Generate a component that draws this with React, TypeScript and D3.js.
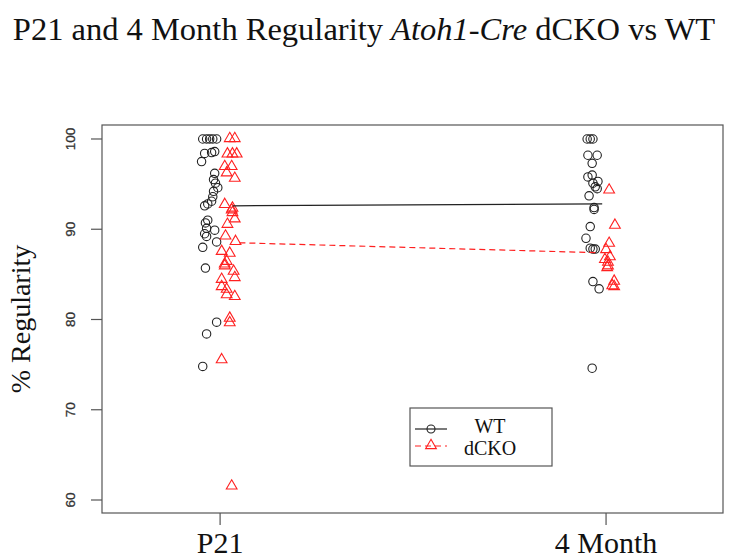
import React from "react";
import * as d3 from "d3";

const groups = ["P21", "4 Month"];
const yTicks = [60, 70, 80, 90, 100];

// [value, jitter offset in category units]
const wtP21: [number, number][] = [
  [100, -0.045], [100, -0.035], [100, -0.027], [100, -0.019], [100, -0.009],
  [98.4, -0.04], [98.5, -0.022], [98.6, -0.014],
  [97.5, -0.048], [96.2, -0.014], [95.5, -0.017], [95.1, -0.012], [94.6, -0.006],
  [94.2, -0.017], [93.6, -0.019], [93.1, -0.022], [92.8, -0.032], [92.6, -0.04],
  [91.0, -0.032], [90.7, -0.038], [90.1, -0.035], [89.9, -0.014], [89.5, -0.04],
  [89.2, -0.035], [88.6, -0.009], [88.0, -0.045], [85.7, -0.038],
  [79.7, -0.009], [78.4, -0.035], [74.8, -0.045],
];
const dckoP21: [number, number][] = [
  [100, 0.025], [100, 0.038], [98.3, 0.019], [98.3, 0.032], [98.3, 0.043],
  [96.9, 0.012], [96.9, 0.03], [96.2, 0.017], [95.6, 0.038],
  [92.7, 0.012], [92.3, 0.032], [92.1, 0.03], [91.8, 0.032], [91.1, 0.038],
  [90.5, 0.019], [89.2, 0.014], [88.6, 0.04], [87.5, 0.004], [87.3, 0.025],
  [86.4, 0.017], [86.1, 0.012], [85.9, 0.012], [85.3, 0.035], [84.6, 0.038],
  [84.4, 0.004], [83.6, 0.004], [83.3, 0.017], [82.7, 0.017], [82.5, 0.038],
  [80.1, 0.025], [79.6, 0.025], [75.5, 0.004], [61.5, 0.03],
];
const wt4M: [number, number][] = [
  [100, -0.049], [100, -0.041], [100, -0.034], [98.2, -0.047], [98.2, -0.023],
  [97.3, -0.036], [96.0, -0.036], [95.8, -0.047], [95.3, -0.021], [95.1, -0.034],
  [94.7, -0.028], [94.5, -0.023], [93.7, -0.044], [92.4, -0.031], [92.2, -0.031],
  [90.3, -0.041], [89.0, -0.052], [87.9, -0.041], [87.8, -0.034], [87.8, -0.028],
  [84.2, -0.034], [83.4, -0.018], [74.6, -0.036],
];
const dcko4M: [number, number][] = [
  [94.3, 0.008], [90.4, 0.023], [88.4, 0.008], [87.7, 0], [86.9, 0.01],
  [86.6, -0.003], [86.3, 0.005], [85.9, 0.005], [85.7, 0.003], [84.2, 0.021],
  [83.7, 0.016], [83.6, 0.021],
];
const wtMeans = [92.6, 92.8];
const dckoMeans = [88.5, 87.4];

const W = 729;
const H = 560;
const left = 102, right = 723, top = 125, bottom = 513;

export default function App() {
  const x = d3.scaleLinear().domain([0.694, 2.303]).range([left, right]);
  const y = d3.scaleLinear().domain([58.56, 101.55]).range([bottom, top]);
  const tri = d3.symbol(d3.symbolTriangle, 50)() as string;
  const red = "#ff2020";
  const black = "#222";

  const circles = (pts: [number, number][], g: number) =>
    pts.map(([v, j], i) => (
      <circle key={`c${g}-${i}`} cx={x(g + j)} cy={y(v)} r={4.2} fill="none" stroke={black} strokeWidth={1.1} />
    ));
  const tris = (pts: [number, number][], g: number) =>
    pts.map(([v, j], i) => (
      <path key={`t${g}-${i}`} d={tri} transform={`translate(${x(g + j)},${y(v) - 0.5})`} fill="none" stroke={red} strokeWidth={1.1} />
    ));

  const wtLine = d3.line<number>().x((_, i) => x(i === 0 ? 1.033 : 1.99)).y((d) => y(d));
  const dLine = d3.line<number>().x((_, i) => x(i === 0 ? 1.05 : 1.98)).y((d) => y(d));

  return (
    <svg width={W} height={H} style={{ position: "absolute", left: 0, top: 0, background: "#fff" }}>
      <text x={364} y={40} textAnchor="middle" fontFamily="Liberation Serif" fontSize={32.5} fill="#111">
        P21 and 4 Month Regularity <tspan fontStyle="italic">Atoh1-Cre</tspan> dCKO vs WT
      </text>
      <rect x={left} y={top} width={right - left} height={bottom - top} fill="none" stroke="#555" strokeWidth={1.2} />
      {yTicks.map((t) => (
        <g key={t}>
          <line x1={left - 11} x2={left} y1={y(t)} y2={y(t)} stroke="#555" strokeWidth={1.2} />
          <text transform={`translate(75,${y(t)}) rotate(-90)`} textAnchor="middle" fontFamily="Liberation Sans" fontSize={13.5} fill="#333" stroke="#333" strokeWidth={0.3}>
            {t}
          </text>
        </g>
      ))}
      {groups.map((gname, i) => (
        <g key={gname}>
          <line x1={x(i + 1)} x2={x(i + 1)} y1={bottom} y2={bottom + 12} stroke="#555" strokeWidth={1.2} />
          <text x={x(i + 1)} y={553} textAnchor="middle" fontFamily="Liberation Serif" fontSize={30} fill="#111">
            {gname}
          </text>
        </g>
      ))}
      <text transform={`translate(30,${(top + bottom) / 2}) rotate(-90)`} textAnchor="middle" fontFamily="Liberation Serif" fontSize={28} fill="#111">
        % Regularity
      </text>
      {circles(wtP21, 1)}
      {circles(wt4M, 2)}
      {tris(dckoP21, 1)}
      {tris(dcko4M, 2)}
      <path d={wtLine(wtMeans) as string} fill="none" stroke={black} strokeWidth={1.2} />
      <path d={dLine(dckoMeans) as string} fill="none" stroke={red} strokeWidth={1.2} strokeDasharray="6,4" />
      <g>
        <rect x={410} y={408} width={142} height={58} fill="#fff" stroke="#555" strokeWidth={1.2} />
        <line x1={415} x2={447} y1={429} y2={429} stroke={black} strokeWidth={1.2} />
        <circle cx={431} cy={429} r={4} fill="none" stroke={black} strokeWidth={1.1} />
        <line x1={415} x2={447} y1={446} y2={446} stroke={red} strokeWidth={1.2} strokeDasharray="6,4" />
        <path d={tri} transform="translate(431,445.5)" fill="none" stroke={red} strokeWidth={1.1} />
        <text x={490} y={433} textAnchor="middle" fontFamily="Liberation Serif" fontSize={20} fill="#111">WT</text>
        <text x={490} y={455} textAnchor="middle" fontFamily="Liberation Serif" fontSize={20} fill="#111">dCKO</text>
      </g>
    </svg>
  );
}
